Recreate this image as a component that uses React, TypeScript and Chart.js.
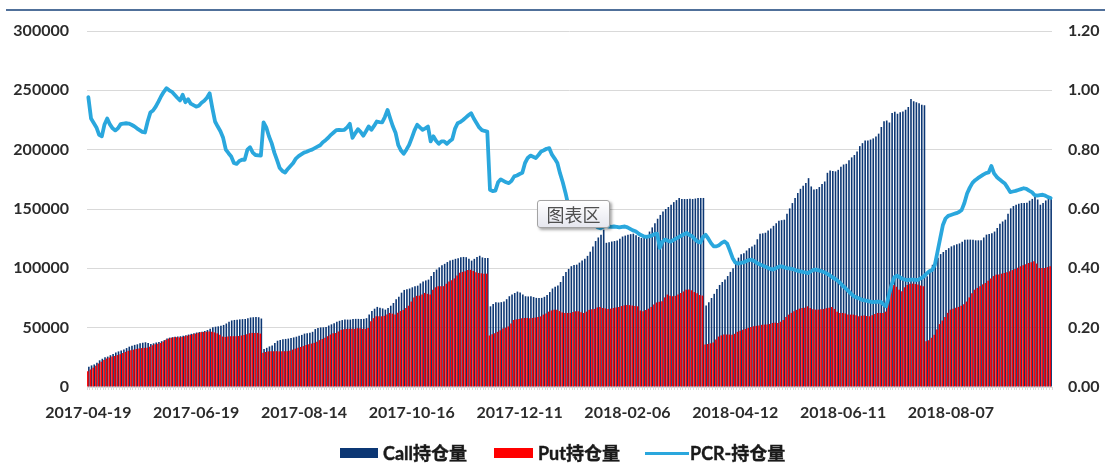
import React, { useEffect, useRef } from "react";
import { Chart, registerables } from "chart.js";

Chart.register(...registerables);

// ---------- data ----------
const START_DATE = "2017-04-19";
const END_DATE = "2018-09-28";
const HOLIDAYS = [
  "2017-05-01", "2017-05-29", "2017-05-30",
  "2017-10-02", "2017-10-03", "2017-10-04", "2017-10-05", "2017-10-06",
  "2018-01-01", "2018-02-15", "2018-02-16", "2018-02-19", "2018-02-20", "2018-02-21",
  "2018-04-05", "2018-04-06", "2018-04-30", "2018-05-01", "2018-06-18", "2018-09-24",
];
const TICK_DATES = [
  "2017-04-19", "2017-06-19", "2017-08-14", "2017-10-16", "2017-12-11",
  "2018-02-06", "2018-04-12", "2018-06-11", "2018-08-07",
];

const CALL_OI = [
  17000, 18200, 19000, 20500, 22500, 23800, 25000, 25600, 26800, 27800,
  29000, 30000, 30800, 31600, 32800, 34000, 34800, 35500, 36000, 36800,
  37300, 37700, 37000, 36200, 36800, 37500, 38000, 38600, 39500, 40800,
  41600, 42000, 42300, 42500, 42800, 43200, 43700, 44200, 44800, 45300,
  45900, 46300, 46500, 47200, 48000, 49000, 50300, 50800, 51100, 51600,
  52300, 53500, 55000, 56100, 56500, 56700, 57000, 57200, 57400, 58000,
  58600, 58800, 58900, 58800, 57700, 32000, 33000, 34200, 35000, 37000,
  39000, 39600, 40200, 40500, 40800, 41300, 41800, 42400, 43200, 43900,
  45000, 45300, 45800, 46500, 48800, 49800, 50200, 50300, 50600, 51800,
  52800, 53800, 55000, 55800, 56400, 56800, 56800, 56800, 57200, 57400,
  57400, 57300, 57400, 58000, 61000, 64000, 66000, 67500, 66800, 66200,
  65200, 66500, 68500, 70800, 74000, 76000, 79500, 81800, 82400, 83000,
  84000, 84800, 85400, 87300, 89000, 89800, 90500, 93500, 97000, 99000,
  100800, 102500, 103800, 105300, 106500, 107200, 108000, 108600, 109400, 109600,
  109400, 108000, 106500, 108000, 109600, 110600, 109200, 108800, 108700, 68000,
  70000, 71400, 71200, 71500, 72000, 74000, 76500, 78000, 79200, 80400,
  79600, 78000, 76500, 76300, 76500, 75800, 75100, 75000, 75100, 76000,
  77500, 80000, 83000, 84500, 85600, 88500, 93500, 97000, 99500, 101800,
  102800, 103100, 104800, 106500, 108000, 110500, 114000, 118500, 123000, 126000,
  128400, 132600, 121500, 122000, 122600, 123000, 123500, 125000, 126800, 127600,
  128400, 128800, 129200, 127800, 126500, 125600, 126500, 128000, 131000, 134500,
  138000, 141800, 145000, 147800, 150000, 151700, 153500, 155800, 157500, 159300,
  158500, 158400, 158400, 158600, 158400, 158800, 159300, 159300, 159300, 68600,
  71500, 75000, 78500, 82500, 86000, 88500, 90500, 93500, 97000, 100000,
  104000, 109000, 111800, 112800, 115000, 117000, 118500, 119900, 124500, 129200,
  129500, 130000, 131800, 133500, 135800, 138000, 140000, 140600, 141000, 146000,
  150500, 155000, 159300, 163500, 167000, 169500, 172000, 176000, 169000, 166500,
  166800, 168500, 171000, 173200, 180500, 182500, 182000, 181700, 183000, 185500,
  187500, 188100, 191000, 193500, 195500, 198500, 203000, 205500, 207700, 207700,
  208500, 209500, 211000, 213500, 219000, 224000, 224600, 222900, 231000, 232000,
  230200, 231500, 232200, 233600, 236000, 242600, 240800, 240000, 239200, 237800,
  237500, 93300, 99000, 103000, 106500, 109000, 112000, 113800, 115500, 117000,
  118500, 119500, 120200, 121000, 122500, 124000, 124200, 124200, 124000, 123600,
  123600, 123600, 126000, 128400, 129000, 129500, 131000, 134000, 137500, 139500,
  141000, 146000, 150500, 152500, 153600, 154500, 155000, 155000, 155200, 157000,
  158500, 160600, 158000, 153600, 155000, 157200, 158500, 159300,
];

const PUT_OI = [
  13300, 14800, 16300, 18000, 19800, 21300, 22800, 24000, 24800, 25600,
  26200, 26900, 27600, 28600, 29600, 30500, 31000, 31500, 32000, 32400,
  32800, 33000, 33100, 34000, 35200, 36000, 36500, 37100, 38300, 39800,
  40800, 41400, 41900, 41900, 41800, 42200, 42800, 43300, 43900, 44500,
  45000, 45600, 46200, 46400, 46600, 46800, 46500, 46000, 45200, 44000,
  42500, 42200, 42500, 42800, 42800, 42800, 43000, 43400, 43900, 44500,
  45300, 45600, 45600, 45600, 45000, 28800, 29500, 30000, 30200, 30200,
  30200, 30000, 30200, 30200, 30200, 30500, 31500, 32300, 33000, 33800,
  34500, 35400, 36000, 36600, 37200, 38200, 39500, 40500, 41500, 42800,
  44200, 45200, 45600, 46800, 48200, 48600, 49000, 49000, 49000, 49000,
  49500, 49600, 49000, 49000, 49800, 55500, 58000, 59600, 59600, 59600,
  60000, 61000, 62400, 61800, 61000, 62500, 64000, 65000, 66500, 68500,
  72000, 75500, 76800, 77000, 78000, 79300, 78500, 77900, 82000, 84000,
  84900, 84900, 85000, 87000, 88800, 90000, 91500, 94000, 96200, 97000,
  97500, 98600, 98800, 97800, 96600, 96100, 95800, 95500, 95500, 43400,
  44500, 45200, 46500, 47800, 49200, 50000, 51000, 53500, 56500, 57000,
  57400, 58000, 58200, 58200, 58000, 58200, 58500, 59000, 59500, 61000,
  62000, 63500, 64500, 65200, 65000, 64000, 62800, 62400, 62400, 62400,
  63200, 63800, 63800, 63000, 62400, 63500, 65000, 65600, 65800, 67000,
  67500, 66600, 66200, 65800, 66000, 66600, 67000, 67500, 68200, 68800,
  69200, 69000, 68600, 68300, 68000, 64500, 63800, 64800, 66000, 67500,
  69500, 71200, 71800, 72300, 75500, 77900, 77000, 76500, 76800, 78000,
  79300, 80500, 82000, 82100, 81500, 80000, 79000, 77500, 77000, 35800,
  36200, 36800, 37500, 40000, 42500, 43500, 44200, 44200, 44200, 44000,
  44800, 46500, 47500, 48200, 49000, 49800, 50500, 51200, 51500, 51800,
  52400, 52600, 52600, 53000, 54000, 54200, 54000, 55000, 56500, 59000,
  61000, 62500, 63800, 65000, 66000, 66500, 66800, 68000, 66500, 65500,
  65200, 65200, 65500, 65800, 66400, 66800, 67500, 65800, 63500, 62400,
  62400, 62000, 61200, 61000, 61000, 60500, 59600, 60000, 60200, 59800,
  59600, 60500, 61500, 62400, 62400, 62400, 63500, 72000, 83500, 86000,
  84500, 82000, 80700, 84000, 86000, 87100, 87100, 86800, 86300, 85500,
  84900, 38600, 39500, 41500, 44000, 48500, 53000, 56000, 59000, 62500,
  65200, 66000, 66800, 67500, 68500, 69800, 72000, 75500, 79000, 82000,
  83500, 84900, 86500, 87700, 89500, 91500, 93500, 94700, 94700, 95500,
  96100, 96800, 97500, 98500, 99500, 100500, 101700, 102500, 103500, 104500,
  105100, 105900, 104000, 100300, 100300, 100300, 101000, 101700,
];

const PCR = [
  0.977, 0.905, 0.89, 0.875, 0.85, 0.845, 0.885, 0.905, 0.885, 0.872,
  0.865, 0.872, 0.886, 0.888, 0.889, 0.888, 0.884, 0.879, 0.872, 0.866,
  0.86, 0.858, 0.895, 0.925, 0.932, 0.945, 0.962, 0.98, 0.995, 1.007,
  1.0, 0.995, 0.985, 0.975, 0.966, 0.985, 0.96, 0.97, 0.955, 0.95,
  0.945, 0.948, 0.958, 0.965, 0.975, 0.99, 0.94, 0.895, 0.878, 0.862,
  0.84, 0.8, 0.788, 0.777, 0.755, 0.752, 0.762, 0.766, 0.766, 0.8,
  0.808, 0.79, 0.782, 0.781, 0.78, 0.892, 0.875, 0.845, 0.822, 0.79,
  0.765, 0.738, 0.728, 0.723, 0.735, 0.745, 0.755, 0.77, 0.778, 0.784,
  0.79, 0.793, 0.797, 0.8, 0.805, 0.81, 0.815, 0.825, 0.832, 0.84,
  0.85, 0.858, 0.866, 0.867, 0.866, 0.867, 0.875, 0.887, 0.84, 0.855,
  0.869, 0.86, 0.847, 0.862, 0.878, 0.867, 0.88, 0.895, 0.893, 0.892,
  0.91, 0.934, 0.905, 0.878, 0.856, 0.815, 0.797, 0.786, 0.8, 0.816,
  0.84, 0.865, 0.884, 0.875, 0.867, 0.872, 0.878, 0.828, 0.845, 0.83,
  0.82, 0.828, 0.828, 0.82, 0.828, 0.835, 0.87, 0.889, 0.893, 0.9,
  0.908, 0.916, 0.923, 0.905, 0.89, 0.875, 0.866, 0.863, 0.861, 0.665,
  0.66, 0.662, 0.69, 0.7, 0.695, 0.69, 0.687, 0.695, 0.71, 0.713,
  0.718, 0.722, 0.755, 0.772, 0.78, 0.776, 0.772, 0.782, 0.794, 0.798,
  0.803, 0.805, 0.783, 0.77, 0.755, 0.72, 0.69, 0.655, 0.615, 0.6,
  0.6, 0.605, 0.6, 0.59, 0.58, 0.57, 0.565, 0.555, 0.545, 0.538,
  0.535, 0.54, 0.543, 0.541, 0.54, 0.541, 0.54, 0.538, 0.54, 0.541,
  0.538, 0.533, 0.528, 0.525, 0.518, 0.512, 0.508, 0.506, 0.508, 0.51,
  0.515, 0.517, 0.469, 0.49, 0.497, 0.493, 0.49, 0.495, 0.5, 0.505,
  0.51, 0.515, 0.519, 0.512, 0.508, 0.498, 0.49, 0.487, 0.505, 0.513,
  0.5, 0.485, 0.474, 0.474, 0.478, 0.486, 0.491, 0.483, 0.46, 0.435,
  0.42, 0.416, 0.418, 0.42, 0.424, 0.428, 0.429, 0.425, 0.418, 0.414,
  0.41, 0.406, 0.402, 0.398, 0.396, 0.4, 0.405, 0.407, 0.404, 0.401,
  0.4, 0.398, 0.395, 0.392, 0.39, 0.388, 0.386, 0.384, 0.39, 0.395,
  0.396, 0.393, 0.39, 0.387, 0.382, 0.377, 0.37, 0.365, 0.358, 0.35,
  0.34, 0.332, 0.323, 0.314, 0.306, 0.302, 0.298, 0.294, 0.292, 0.29,
  0.288, 0.286, 0.287, 0.288, 0.287, 0.278, 0.272, 0.31, 0.345, 0.37,
  0.375, 0.37, 0.365, 0.362, 0.36, 0.362, 0.362, 0.36, 0.362, 0.367,
  0.373, 0.382, 0.39, 0.394, 0.41, 0.455, 0.5, 0.545, 0.568, 0.577,
  0.58, 0.583, 0.586, 0.59, 0.597, 0.62, 0.652, 0.672, 0.688, 0.697,
  0.704, 0.71, 0.716, 0.721, 0.723, 0.745, 0.72, 0.708, 0.7, 0.693,
  0.686, 0.672, 0.657, 0.659, 0.661, 0.664, 0.667, 0.67, 0.668, 0.662,
  0.657, 0.647, 0.645, 0.647, 0.648, 0.645, 0.64, 0.637,
];

const SERIES_NAMES = ["Call持仓量", "Put持仓量", "PCR-持仓量"];
const LEFT_TICKS = [0, 300000, 50000];
const RIGHT_TICKS = [0, 1.2, 0.2];

// ---------- style ----------
const NAVY = "#0C3774";
const RED = "#FF0000";
const LINE_BLUE = "#2AA7DD";
const GRID = "#D9D9D9";
const TEXT = "#2B2B2B";
const FONT = "Lato, 'Noto Sans CJK SC', sans-serif";
// two partly overlapping bars per category (Put drawn over Call)
const BAR_CAT_PCT = 0.742;
const BAR_PCT = 1.6;

function buildTradingDays(start: string, end: string, holidays: string[]): string[] {
  const out: string[] = [];
  const hs = new Set(holidays);
  const d = new Date(start + "T00:00:00Z");
  const e = new Date(end + "T00:00:00Z");
  while (d.getTime() <= e.getTime()) {
    const wd = d.getUTCDay();
    const s = d.toISOString().slice(0, 10);
    if (wd !== 0 && wd !== 6 && !hs.has(s)) out.push(s);
    d.setUTCDate(d.getUTCDate() + 1);
  }
  return out;
}

const DATES = buildTradingDays(START_DATE, END_DATE, HOLIDAYS);

export default function App() {
  const canvasRef = useRef<HTMLCanvasElement | null>(null);

  useEffect(() => {
    if (!canvasRef.current) return;
    const tickFont = { family: FONT, size: 16, weight: "bold" as const };
    const chart = new Chart(canvasRef.current, {
      type: "bar",
      data: {
        labels: DATES,
        datasets: [
          {
            type: "line",
            label: SERIES_NAMES[2],
            data: PCR,
            yAxisID: "y1",
            borderColor: LINE_BLUE,
            backgroundColor: LINE_BLUE,
            borderWidth: 3.8,
            borderJoinStyle: "round",
            borderCapStyle: "round",
            pointRadius: 0,
            tension: 0,
            order: 0,
          } as any,
          {
            type: "bar",
            label: SERIES_NAMES[1],
            data: PUT_OI,
            yAxisID: "y",
            backgroundColor: RED,
            borderWidth: 0,
            categoryPercentage: BAR_CAT_PCT,
            barPercentage: BAR_PCT,
            order: 1,
          },
          {
            type: "bar",
            label: SERIES_NAMES[0],
            data: CALL_OI,
            yAxisID: "y",
            backgroundColor: NAVY,
            borderWidth: 0,
            categoryPercentage: BAR_CAT_PCT,
            barPercentage: BAR_PCT,
            order: 1,
          },
        ],
      },
      options: {
        responsive: false,
        animation: false,
        events: [],
        layout: { padding: { top: 31, left: 0, right: 0, bottom: 0 } },
        plugins: {
          legend: { display: false },
          tooltip: { enabled: false },
        },
        scales: {
          x: {
            offset: true,
            grid: {
              display: true,
              drawOnChartArea: false,
              drawTicks: true,
              tickLength: 3,
              color: GRID,
              offset: true,
            },
            border: { display: true, color: GRID },
            ticks: {
              autoSkip: false,
              maxRotation: 0,
              minRotation: 0,
              padding: 13,
              color: TEXT,
              font: tickFont,
              callback: (_v: any, i: number) =>
                TICK_DATES.includes(DATES[i]) ? DATES[i] : "",
            },
            afterFit: (s: any) => {
              s.height = 77;
            },
          },
          y: {
            position: "left",
            min: LEFT_TICKS[0],
            max: LEFT_TICKS[1],
            grid: { color: GRID, drawTicks: false },
            border: { display: false },
            ticks: {
              stepSize: LEFT_TICKS[2],
              padding: 18,
              color: TEXT,
              font: tickFont,
              callback: (v: any) => String(v),
            },
            afterFit: (s: any) => {
              s.width = 87;
            },
          },
          y1: {
            position: "right",
            min: RIGHT_TICKS[0],
            max: RIGHT_TICKS[1],
            grid: { display: false, drawTicks: false },
            border: { display: false },
            ticks: {
              stepSize: RIGHT_TICKS[2],
              padding: 16,
              color: TEXT,
              font: tickFont,
              callback: (v: any) => Number(v).toFixed(2),
            },
            afterFit: (s: any) => {
              s.width = 53;
            },
          },
        },
      },
    });
    return () => chart.destroy();
  }, []);

  const legendText: React.CSSProperties = {
    position: "absolute",
    top: 441,
    font: `bold 18px ${FONT}`,
    color: "#1A1A1A",
    lineHeight: "24px",
    whiteSpace: "nowrap",
    WebkitTextStroke: "0.4px #1A1A1A",
  };

  return (
    <div
      style={{
        position: "fixed",
        left: 0,
        top: 0,
        width: 1105,
        height: 464,
        background: "#FFFFFF",
        overflow: "hidden",
      }}
    >
      <canvas ref={canvasRef} width={1105} height={464} style={{ display: "block" }} />
      <div
        style={{
          position: "absolute",
          left: 6,
          right: 0,
          top: 9,
          height: 2,
          background: "#50709A",
        }}
      />
      {/* legend */}
      <div style={{ position: "absolute", left: 340, top: 448, width: 38, height: 10, background: NAVY }} />
      <div style={{ ...legendText, left: 383 }}>{SERIES_NAMES[0]}</div>
      <div style={{ position: "absolute", left: 494, top: 448, width: 39, height: 10, background: RED }} />
      <div style={{ ...legendText, left: 538 }}>{SERIES_NAMES[1]}</div>
      <div style={{ position: "absolute", left: 645, top: 451.5, width: 44, height: 3.5, background: LINE_BLUE }} />
      <div style={{ ...legendText, left: 690 }}>{SERIES_NAMES[2]}</div>
      {/* tooltip bubble */}
      <div
        style={{
          position: "absolute",
          left: 537,
          top: 200,
          width: 73,
          height: 28,
          boxSizing: "border-box",
          border: "1px solid #A3A3A3",
          borderRadius: 3,
          background: "linear-gradient(#FFFFFF, #E6E7EF)",
          boxShadow: "2px 2px 3px rgba(0,0,0,0.35)",
          font: "18px 'Noto Sans CJK SC', sans-serif",
          color: "#4F4F4F",
          display: "flex",
          alignItems: "center",
          justifyContent: "center",
          lineHeight: "26px",
        }}
      >
        图表区
      </div>
    </div>
  );
}
